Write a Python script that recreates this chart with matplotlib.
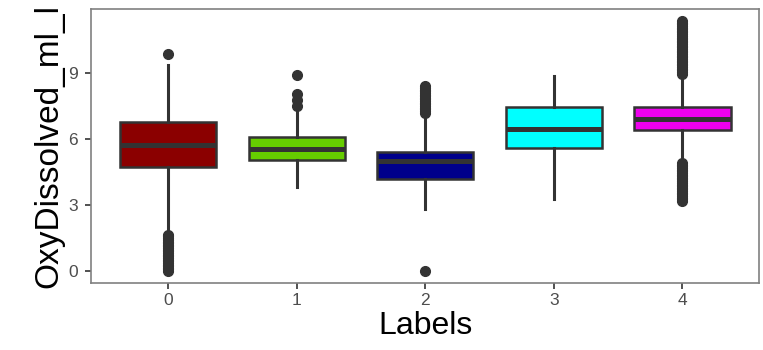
import matplotlib
matplotlib.use("Agg")
import matplotlib.pyplot as plt

plt.rcParams['font.family'] = ['Liberation Sans', 'DejaVu Sans']

# Dissolved oxygen per cluster label: box summary statistics
labels = ['0', '1', '2', '3', '4']
q1 = [4.70, 5.05, 4.15, 5.59, 6.42]
med = [5.70, 5.55, 4.97, 6.47, 6.90]
q3 = [6.75, 6.09, 5.42, 7.47, 7.47]
whislo = [1.85, 3.80, 2.80, 3.26, 5.05]
whishi = [9.36, 7.30, 7.05, 8.86, 8.85]

# Outlying observations for each label
fliers_0 = [9.85, 1.62, 1.55, 1.47, 1.40, 1.32, 1.25, 1.17, 1.10, 1.02, 0.95,
            0.87, 0.80, 0.72, 0.65, 0.57, 0.50, 0.42, 0.35, 0.27, 0.20,
            0.12, 0.05, 0.00]
fliers_1 = [8.90, 8.05, 7.77, 7.50]
fliers_2 = [8.40, 8.32, 8.25, 8.17, 8.10, 8.02, 7.95, 7.87, 7.80, 7.72,
            7.65, 7.57, 7.50, 7.42, 7.35, 7.27, 7.20, 0.00]
fliers_3 = []
fliers_4 = [11.38, 11.30, 11.22, 11.15, 11.07, 11.00, 10.92, 10.85, 10.77,
            10.70, 10.62, 10.55, 10.47, 10.40, 10.32, 10.25, 10.17, 10.10,
            10.02, 9.95, 9.87, 9.80, 9.72, 9.65, 9.57, 9.50, 9.42, 9.35,
            9.27, 9.20, 9.12, 9.05, 8.97,
            4.90, 4.82, 4.75, 4.67, 4.60, 4.52, 4.45, 4.37, 4.30, 4.22,
            4.15, 4.07, 4.00, 3.92, 3.85, 3.77, 3.70, 3.62, 3.55, 3.47,
            3.40, 3.32, 3.25, 3.18]
fliers = [fliers_0, fliers_1, fliers_2, fliers_3, fliers_4]

fill_colors = ['#8B0000', '#66CD00', '#00008B', '#00FFFF', '#EE00EE']

stats = []
for i in range(len(labels)):
    stats.append(dict(label=labels[i], q1=q1[i], med=med[i], q3=q3[i],
                      whislo=whislo[i], whishi=whishi[i], fliers=fliers[i]))

fig = plt.figure(figsize=(7.63, 3.5), dpi=100)
ax = fig.add_axes([0.1193, 0.1914, 0.8761, 0.7829])

dark = '#333333'
bp = ax.bxp(stats, positions=range(len(labels)), widths=0.75,
            patch_artist=True, showcaps=False,
            boxprops=dict(edgecolor=dark, linewidth=1.8),
            whiskerprops=dict(color=dark, linewidth=2.2),
            medianprops=dict(color=dark, linewidth=3.6),
            flierprops=dict(marker='o', markerfacecolor=dark,
                            markeredgecolor=dark, markersize=7,
                            linestyle='none'))
for patch, c in zip(bp['boxes'], fill_colors):
    patch.set_facecolor(c)

ax.set_xlim(-0.6, 4.6)
ax.set_ylim(-0.57, 11.92)
ax.set_xticks(range(len(labels)))
ax.set_xticklabels(labels)
ax.set_yticks([0, 3, 6, 9])

for s in ax.spines.values():
    s.set_color('#808080')
    s.set_linewidth(1.2)

ax.tick_params(axis='both', colors='#333333', labelcolor='#4D4D4D',
               labelsize=12.5, length=4.5, width=1.2)
ax.tick_params(axis='y', pad=5)
ax.tick_params(axis='x', pad=3)

ax.set_xlabel('Labels', fontsize=23, color='black', labelpad=2)
ax.set_ylabel('OxyDissolved_ml_l', fontsize=24, color='black', labelpad=3)

fig.savefig('out.png', dpi=100)
